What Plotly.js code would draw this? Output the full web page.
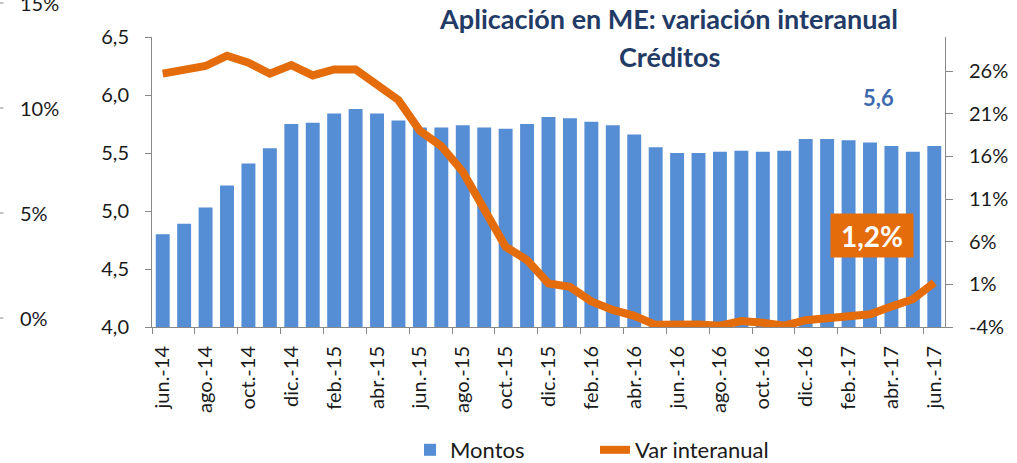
<!DOCTYPE html>
<html><head><meta charset="utf-8">
<script src="https://cdn.plot.ly/plotly-3.0.1.min.js"></script>
<style>html,body{margin:0;padding:0;background:#fff}#chart{width:1017px;height:463px}</style>
</head><body><div id="chart"></div>
<script>
const months = ['jun.-14','jul.-14','ago.-14','sep.-14','oct.-14','nov.-14','dic.-14',
  'ene.-15','feb.-15','mar.-15','abr.-15','may.-15','jun.-15','jul.-15','ago.-15','sep.-15','oct.-15','nov.-15','dic.-15',
  'ene.-16','feb.-16','mar.-16','abr.-16','may.-16','jun.-16','jul.-16','ago.-16','sep.-16','oct.-16','nov.-16','dic.-16',
  'ene.-17','feb.-17','mar.-17','abr.-17','may.-17','jun.-17'];
const montos = [4.80,4.89,5.03,5.22,5.41,5.54,5.75,5.76,5.84,5.88,5.84,5.78,5.72,5.72,5.74,5.72,5.71,5.75,5.81,5.80,5.77,5.74,5.66,5.55,5.50,5.50,5.51,5.52,5.51,5.52,5.62,5.62,5.61,5.59,5.56,5.51,5.56];
const varInteranual = [25.7,26.2,26.6,27.8,27.0,25.7,26.7,25.5,26.2,26.2,24.5,22.6,19.0,17.2,14.2,9.7,5.4,3.85,1.1,0.7,-1.0,-2.0,-2.7,-3.75,-3.65,-3.7,-3.85,-3.3,-3.5,-3.85,-3.2,-3.0,-2.7,-2.5,-1.6,-0.75,1.2];
const leftTicks = [4.0,4.5,5.0,5.5,6.0,6.5];
const rightTicks = [-4,1,6,11,16,21,26];
const rightTickText = ['-4%','1%','6%','11%','16%','21%','26%'];
const ghostLabels = ['15%','10%','5%','0%'];
const seriesNames = ['Montos','Var interanual'];
const titleLine1 = 'Aplicación en ME: variación interanual';
const titleLine2 = 'Créditos';
const lastMonto = '5,6';
const lastVar = '1,2%';

const W = 1017, H = 463, L = 152, R = 72, T = 37, B = 136;
const pw = W - L - R, ph = H - T - B;
const px = p => (p - L) / pw;
const py = p => (H - B - p) / ph;
const FONT = 'Lato, "Open Sans", sans-serif';
const ghostY = [3, 108, 213, 318];

const annotations = ghostLabels.map((t, i) => ({
  text: t, xref: 'paper', yref: 'paper', x: px(18), y: py(ghostY[i]),
  xanchor: 'left', yanchor: 'middle', showarrow: false,
  font: {family: FONT, size: 20, color: '#1a1a1a'}
}));
annotations.push({
  text: titleLine2, xref: 'paper', yref: 'paper', x: px(669), y: py(56),
  xanchor: 'center', yanchor: 'middle', showarrow: false,
  font: {family: FONT, size: 27, color: '#1F3B66', weight: 'bold'}
});
annotations.push({
  text: '<b>' + lastMonto + '</b>', xref: 'paper', yref: 'paper', x: px(878), y: py(97),
  xanchor: 'center', yanchor: 'middle', showarrow: false,
  font: {family: FONT, size: 22, color: '#3D6AAE'}
});
annotations.push({
  text: '<b>' + lastVar + '</b>', xref: 'paper', yref: 'paper', x: px(872), y: py(235.5),
  xanchor: 'center', yanchor: 'middle', showarrow: false,
  width: 80, height: 41, borderpad: 1, bgcolor: '#E46C0A',
  font: {family: FONT, size: 28, color: '#ffffff'}
});

const shapes = ghostY.map(y => ({
  type: 'line', xref: 'paper', yref: 'paper', x0: px(0), x1: px(3.5), y0: py(y), y1: py(y),
  line: {color: '#888', width: 1}
}));

const data = [
  {type: 'bar', name: seriesNames[0], x: months, y: montos, yaxis: 'y',
   marker: {color: '#558ED5', line: {width: 0}}, hoverinfo: 'skip'},
  {type: 'scatter', mode: 'lines', name: seriesNames[1], x: months, y: varInteranual, yaxis: 'y2',
   line: {color: '#E46C0A', width: 8}, hoverinfo: 'skip'}
];

const tickFont = {family: FONT, size: 20, color: '#1a1a1a'};
const layout = {
  width: W, height: H, margin: {l: L, r: R, t: T, b: B, pad: 0, autoexpand: false},
  paper_bgcolor: '#ffffff', plot_bgcolor: 'rgba(0,0,0,0)',
  separators: ',.', bargap: 0.35, showlegend: true,
  font: {family: FONT, size: 20, color: '#1a1a1a'},
  title: {text: titleLine1, x: 669 / W, xanchor: 'center', yref: 'container', y: 1 - 20 / H, yanchor: 'middle',
          font: {family: FONT, size: 27, color: '#1F3B66', weight: 'bold'}},
  xaxis: {type: 'category', tickmode: 'linear', tick0: 0, dtick: 2, tickson: 'boundaries',
          ticks: 'outside', ticklen: 6, tickcolor: '#888', tickangle: -90,
          showline: true, linecolor: '#888', linewidth: 1, showgrid: false, zeroline: false,
          ticklabelstandoff: 10, tickfont: tickFont},
  yaxis: {range: [4, 6.5], tickvals: leftTicks, tickformat: '.1f', ticks: 'outside', ticklen: 6,
          tickcolor: '#888', showline: true, linecolor: '#888', linewidth: 1, showgrid: false,
          zeroline: false, ticklabelstandoff: 12, tickfont: tickFont},
  yaxis2: {range: [-4, 30], tickmode: 'array', tickvals: rightTicks, ticktext: rightTickText,
           overlaying: 'y', side: 'right',
           ticks: 'outside', ticklen: 7, tickcolor: '#888', showline: true, linecolor: '#888', linewidth: 1,
           showgrid: false, zeroline: false, ticklabelstandoff: 12, tickfont: tickFont},
  legend: {orientation: 'h', x: px(410), xanchor: 'left', y: py(450), yanchor: 'middle',
           entrywidth: 140,
           font: {family: FONT, size: 22, color: '#1a1a1a'}, bgcolor: 'rgba(0,0,0,0)'},
  annotations: annotations, shapes: shapes
};

Plotly.newPlot('chart', data, layout, {displayModeBar: false, staticPlot: true});
</script></body></html>
